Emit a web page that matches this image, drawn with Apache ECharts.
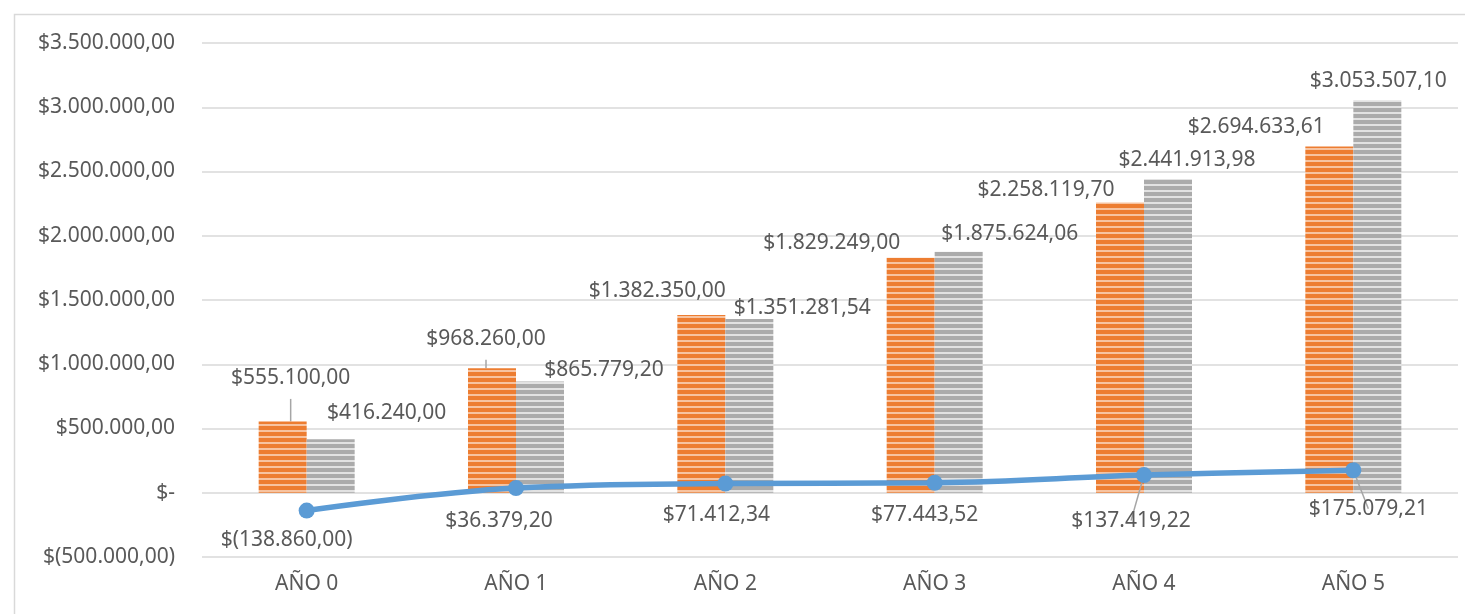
<!DOCTYPE html>
<html>
<head>
<meta charset="utf-8">
<script src="https://cdn.jsdelivr.net/npm/echarts@6/dist/echarts.min.js"></script>
<style>
  html, body { margin: 0; padding: 0; background: #fff; }
  #chart { width: 1465px; height: 614px; }
</style>
</head>
<body>
<div id="chart"></div>
<script>
// data
var categories = ['AÑO 0', 'AÑO 1', 'AÑO 2', 'AÑO 3', 'AÑO 4', 'AÑO 5']
var ingresos = [555100.00, 968260.00, 1382350.00, 1829249.00, 2258119.70, 2694633.61]
var egresos = [416240.00, 865779.20, 1351281.54, 1875624.06, 2441913.98, 3053507.10]
var flujo = [-138860.00, 36379.20, 71412.34, 77443.52, 137419.22, 175079.21]

// label nudges (px) so the labels sit where Excel put them
var ingresosOffsets = [[8, -28], [-6, -14], [-44, -9], [-79, 1], [-74, 3], [-73, -4]]
var egresosOffsets = [[56, -11], [64, 4], [53, 4], [51, -2], [19, -3], [1, -4]]
var flujoOffsets = [[-20, 6], [-17, 9], [-9, 8], [-10, 9], [-13, 22], [15, 15]]
var ingresosLeader = [true, true, false, false, false, false]
var flujoLeader = [false, false, false, false, true, true]

var FONT = '"Noto Sans", sans-serif'
var TEXT = '#595959'
var SIZE = 21

function money(v) {
  if (v === 0) return '$-'
  var abs = Math.abs(v)
  var parts = abs.toFixed(2).split('.')
  var ent = parts[0].replace(/\B(?=(\d{3})+(?!\d))/g, '.')
  var s = ent + ',' + parts[1]
  return v < 0 ? '$(' + s + ')' : '$' + s
}

function stripes(base, light) {
  var c = document.createElement('canvas')
  c.width = 4
  c.height = 6
  var ctx = c.getContext('2d')
  ctx.fillStyle = base
  ctx.fillRect(0, 0, 4, 6)
  ctx.fillStyle = light
  ctx.fillRect(0, 4, 4, 2)
  return { image: c, repeat: 'repeat' }
}

function pointData(values, offsets, leaders) {
  return values.map(function(v, i) {
    return {
      value: v,
      label: { offset: offsets[i] },
      labelLine: { show: leaders ? leaders[i] : false }
    }
  })
}

var chart = echarts.init(document.getElementById('chart'))

chart.setOption({
  animation: false,
  textStyle: { fontFamily: FONT },
  graphic: [{
    type: 'rect',
    left: 12,
    top: 12,
    shape: { width: 1460, height: 610 },
    style: { fill: 'none', stroke: '#D9D9D9', lineWidth: 1.5 },
    silent: true,
    z: -1
  }],
  grid: {
    left: 202,
    right: 7,
    top: 43,
    bottom: 57
  },
  xAxis: {
    type: 'category',
    data: categories,
    axisLine: { show: false },
    axisTick: { show: false },
    axisLabel: { color: TEXT, fontSize: SIZE, fontFamily: FONT, margin: 17 }
  },
  yAxis: {
    type: 'value',
    min: -500000,
    max: 3500000,
    interval: 500000,
    axisLine: { show: false },
    axisTick: { show: false },
    axisLabel: {
      color: TEXT,
      fontSize: SIZE,
      fontFamily: FONT,
      margin: 27,
      formatter: money
    },
    splitLine: { lineStyle: { color: '#D9D9D9', width: 1.5 } }
  },
  series: [{
    name: 'Ingresos',
    type: 'bar',
    barWidth: 48,
    barGap: '0%',
    data: pointData(ingresos, ingresosOffsets, ingresosLeader),
    itemStyle: { color: stripes('#ED7D31', '#F7C3A0') },
    label: {
      show: true,
      position: 'top',
      color: TEXT,
      fontSize: SIZE,
      fontFamily: FONT,
      formatter: function(p) { return money(p.value) }
    },
    labelLine: { lineStyle: { color: '#A6A6A6', width: 1.5 } }
  }, {
    name: 'Egresos',
    type: 'bar',
    barWidth: 48,
    barGap: '0%',
    data: pointData(egresos, egresosOffsets),
    itemStyle: { color: stripes('#ABABAB', '#E2E2E2') },
    label: {
      show: true,
      position: 'top',
      color: TEXT,
      fontSize: SIZE,
      fontFamily: FONT,
      formatter: function(p) { return money(p.value) }
    }
  }, {
    name: 'Flujo',
    type: 'line',
    smooth: 0.4,
    symbol: 'circle',
    symbolSize: 16,
    data: pointData(flujo, flujoOffsets, flujoLeader),
    lineStyle: { color: '#5B9BD5', width: 5.5 },
    itemStyle: { color: '#5B9BD5' },
    label: {
      show: true,
      position: 'bottom',
      color: TEXT,
      fontSize: SIZE,
      fontFamily: FONT,
      formatter: function(p) { return money(p.value) }
    },
    labelLine: { lineStyle: { color: '#A6A6A6', width: 1.5 } },
    z: 5
  }]
})
</script>
</body>
</html>
